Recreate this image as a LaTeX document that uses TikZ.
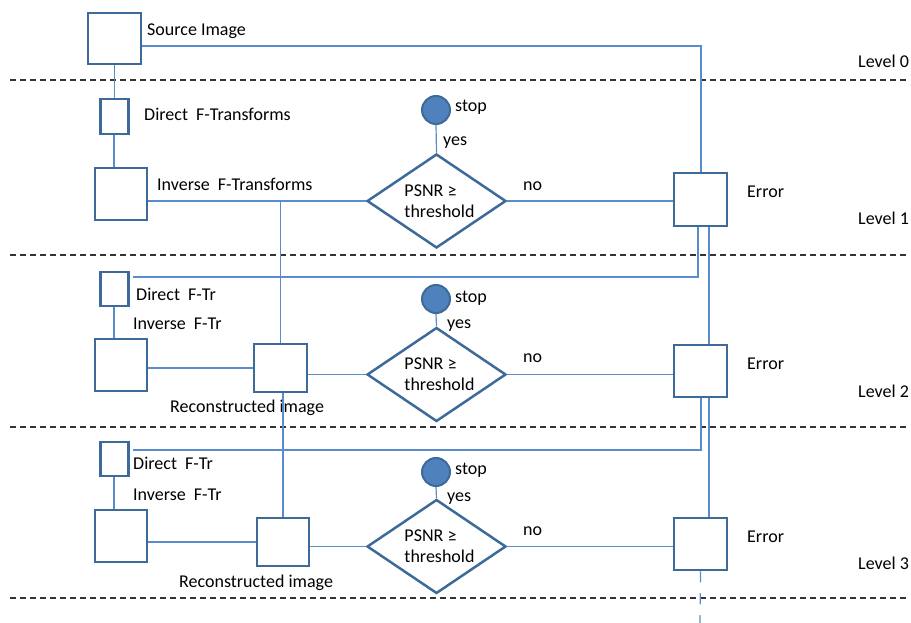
\documentclass[tikz,border=0pt]{standalone}
\usepackage{fontspec}
\setmainfont{Carlito}
\usetikzlibrary{shapes.geometric,calc}
\definecolor{boxc}{HTML}{3E6A99}
\definecolor{linec}{HTML}{5A8CCB}
\definecolor{fillc}{HTML}{4F81BD}
\tikzset{
  bx/.style={draw=boxc, line width=2.5pt, fill=white, inner sep=0pt, rectangle},
  dia/.style={draw=boxc, line width=2.5pt, fill=white, inner sep=0pt, diamond, minimum width=139pt, minimum height=94pt},
  stopc/.style={draw=boxc, line width=2pt, fill=fillc, circle, inner sep=0pt, minimum size=28pt},
  conn/.style={draw=linec, line width=1.2pt},
  lvl/.style={draw=black!80, line width=1.4pt, dash pattern=on 6pt off 4pt},
  txt/.style={anchor=base west, inner sep=0pt, font=\fontsize{18}{22}\selectfont, text=black},
}
\begin{document}
\begin{tikzpicture}[x=1pt,y=-1pt]
\useasboundingbox (0,0) rectangle (911,623);
% level separators
\coordinate (L0a) at (10,80);  \coordinate (L0b) at (907,80);
\coordinate (L1a) at (10,255); \coordinate (L1b) at (907,255);
\coordinate (L2a) at (10,427); \coordinate (L2b) at (907,427);
\coordinate (L3a) at (10,598); \coordinate (L3b) at (907,598);
\draw[lvl] (L0a) -- (L0b);
\draw[lvl] (L1a) -- (L1b);
\draw[lvl] (L2a) -- (L2b);
\draw[lvl] (L3a) -- (L3b);

% nodes level 0/1
\node[bx, minimum width=53pt, minimum height=51pt] (src) at (114.5,38.5) {};
\node[bx, minimum width=28pt, minimum height=35pt] (d1) at (114.5,116.5) {};
\node[bx, minimum width=52pt, minimum height=52pt] (i1) at (121,194) {};
\node[stopc] (s1) at (436,110) {};
\node[dia] (q1) at (436.5,201) {};
\node[bx, minimum width=53pt, minimum height=53pt] (e1) at (700.5,199.5) {};
% level 2
\node[bx, minimum width=28pt, minimum height=34pt] (d2) at (114.5,289) {};
\node[bx, minimum width=52pt, minimum height=52pt] (i2) at (121,365) {};
\node[bx, minimum width=53pt, minimum height=48pt] (r2) at (280.5,368) {};
\node[stopc] (s2) at (436,299) {};
\node[dia] (q2) at (436.5,374.5) {};
\node[bx, minimum width=53pt, minimum height=52pt] (e2) at (700.5,371) {};
% level 3
\node[bx, minimum width=28pt, minimum height=34pt] (d3) at (114.5,459) {};
\node[bx, minimum width=52pt, minimum height=52pt] (i3) at (121,536) {};
\node[bx, minimum width=52pt, minimum height=48pt] (r3) at (283,542) {};
\node[stopc] (s3) at (436,472) {};
\node[dia] (q3) at (436.5,546.5) {};
\node[bx, minimum width=53pt, minimum height=52pt] (e3) at (700.5,544) {};

% texts
\node[txt] (tsrc) at (147,36) {Source Image};
\node[txt] (tl0) at (858,68) {Level 0};
\node[txt] (tl1) at (858,225) {Level 1};
\node[txt] (tl2) at (858,397) {Level 2};
\node[txt] (tl3) at (858,569) {Level 3};
\node[txt] (td1) at (144,121) {Direct\ \ F-Transforms};
\node[txt] (ti1) at (157,190) {Inverse\ \ F-Transforms};
\node[txt] (ts1) at (455,112) {stop};
\node[txt] (ty1) at (443,146) {yes};
\node[txt] (tn1) at (523,191) {no};
\node[txt] (te1) at (747,198) {Error};
\node[txt] (td2) at (136,300) {Direct\ \ F-Tr};
\node[txt] (ti2) at (133,329) {Inverse\ \ F-Tr};
\node[txt] (tr2) at (170,412) {Reconstructed image};
\node[txt] (ts2) at (455,302) {stop};
\node[txt] (ty2) at (447,328) {yes};
\node[txt] (tn2) at (523,362) {no};
\node[txt] (te2) at (747,369) {Error};
\node[txt] (td3) at (133,469) {Direct\ \ F-Tr};
\node[txt] (ti3) at (133,500) {Inverse\ \ F-Tr};
\node[txt] (tr3) at (179,587) {Reconstructed image};
\node[txt] (ts3) at (455,474) {stop};
\node[txt] (ty3) at (447,501) {yes};
\node[txt] (tn3) at (523,535) {no};
\node[txt] (te3) at (747,542) {Error};
\foreach \q in {q1,q2,q3}{
  \node[align=left, inner sep=0pt, font=\fontsize{18}{21}\selectfont, text=black] (\q t) at ($(\q)+(3,0)$) {PSNR ≥\\threshold};
}

% connectors
\coordinate (c0) at (701,46);
\draw[conn] (src.east |- c0) -- (c0) -- (c0 |- e1.north);
\draw[conn] (src.south) -- (d1.north);
\coordinate (xv) at (114,0);
\draw[conn] (d1.south -| xv) -- (i1.north -| xv);
\draw[conn] (i1.east |- q1.west) -- (q1.west);
\draw[conn] (s1.south) -- (q1.north);
\draw[conn] (q1.east) -- (q1.east -| e1.west);
\coordinate (j1) at (r2.north |- q1.west);
\draw[conn] (j1) -- (r2.north);
\coordinate (a1) at (698,277);
\coordinate (a1e) at (133,277);
\draw[conn] (e1.south -| a1) -- (a1) -- (a1e);
\coordinate (b1) at (709,0);
\draw[conn] (e1.south -| b1) -- (e2.north -| b1);
% level 2
\draw[conn] (d2.south -| xv) -- (i2.north -| xv);
\draw[conn] (i2.east |- r2.west) -- (r2.west);
\draw[conn] (q2.west -| r2.east) -- (q2.west);
\draw[conn] (s2.south) -- (q2.north);
\draw[conn] (q2.east) -- (q2.east -| e2.west);
\draw[conn] (r3.north |- r2.south) -- (r3.north);
\coordinate (a2) at (701,450);
\coordinate (a2e) at (133,450);
\draw[conn] (e2.south -| a2) -- (a2) -- (a2e);
\draw[conn] (e2.south -| b1) -- (e3.north -| b1);
% level 3
\draw[conn] (d3.south -| xv) -- (i3.north -| xv);
\draw[conn] (i3.east |- r3.west) -- (r3.west);
\draw[conn] (q3.west -| r3.east) -- (q3.west);
\draw[conn] (s3.south) -- (q3.north);
\draw[conn] (q3.east) -- (q3.east -| e3.west);
\coordinate (endc) at (700,623);
\draw[conn, dash pattern=on 11pt off 11pt] (e3.south) -- (endc);
\end{tikzpicture}
\end{document}
